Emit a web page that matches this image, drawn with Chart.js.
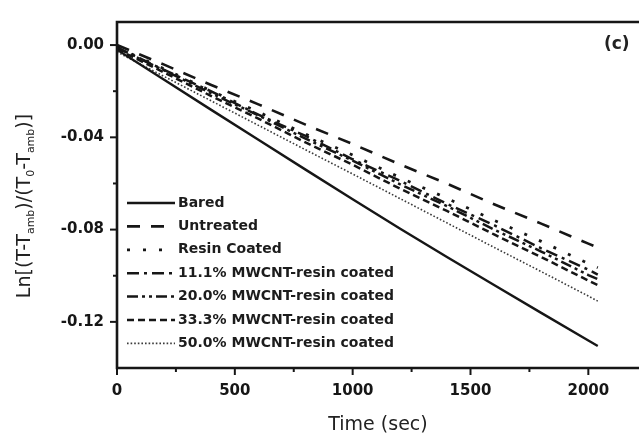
<!DOCTYPE html>
<html lang="en">
<head>
  <meta charset="UTF-8" />
  <title>Cooling curves</title>
  <script src="https://cdn.jsdelivr.net/npm/chart.js"></script>
  <style>
    body { margin: 0; background: #fff; overflow: hidden; }
    #wrap { width: 639px; height: 436px; }
  </style>
</head>
<body>
  <div id="wrap"><canvas id="coolChart"></canvas></div>

  <script>
    // time axis (sec)
    const timeSec = [0, 200, 400, 600, 800, 1000, 1200, 1400, 1600, 1800, 2000, 2040];

    // Ln[(T-Tamb)/(T0-Tamb)]
    const bared     = [-0.0020, -0.0150, -0.0281, -0.0410, -0.0540, -0.0668, -0.0795, -0.0919, -0.1040, -0.1161, -0.1281, -0.1305];
    const untreated = [ 0.0000, -0.0085, -0.0173, -0.0257, -0.0345, -0.0429, -0.0517, -0.0601, -0.0690, -0.0774, -0.0861, -0.0878];
    const resin     = [-0.0010, -0.0103, -0.0199, -0.0290, -0.0386, -0.0477, -0.0574, -0.0664, -0.0760, -0.0851, -0.0947, -0.0965];
    const mw111     = [-0.0010, -0.0108, -0.0201, -0.0302, -0.0394, -0.0495, -0.0588, -0.0688, -0.0781, -0.0881, -0.0974, -0.0995];
    const mw200     = [-0.0012, -0.0110, -0.0209, -0.0305, -0.0406, -0.0501, -0.0603, -0.0698, -0.0800, -0.0895, -0.0997, -0.1015];
    const mw333     = [-0.0018, -0.0119, -0.0221, -0.0319, -0.0422, -0.0519, -0.0622, -0.0719, -0.0821, -0.0919, -0.1021, -0.1040];
    const mw500     = [-0.0030, -0.0136, -0.0242, -0.0348, -0.0454, -0.0559, -0.0665, -0.0771, -0.0877, -0.0982, -0.1088, -0.1110];

    const seriesNames = [
      'Bared', 'Untreated', 'Resin Coated',
      '11.1% MWCNT-resin coated', '20.0% MWCNT-resin coated',
      '33.3% MWCNT-resin coated', '50.0% MWCNT-resin coated'
    ];

    // ticks
    const yMajor = [0, -0.04, -0.08, -0.12];
    const yLabels = ['0.00', '-0.04', '-0.08', '-0.12'];
    const yMinor = [-0.02, -0.06, -0.10];
    const xMajor = [0, 500, 1000, 1500, 2000];
    const xMinor = [250, 750, 1250, 1750];

    const ink = '#161616';
    const tickFont = { family: 'DejaVu Sans', size: 15, weight: 'bold' };

    const styles = [
      { w: 2.4, dash: [] },
      { w: 2.6, dash: [13, 11] },
      { w: 2.8, dash: [3, 13] },
      { w: 2.5, dash: [12, 5, 3, 5] },
      { w: 2.5, dash: [11, 4, 3, 4, 3, 4] },
      { w: 2.5, dash: [7, 4] },
      { w: 1.6, dash: [1.6, 2] }
    ];

    const allData = [bared, untreated, resin, mw111, mw200, mw333, mw500];
    const datasets = allData.map((arr, i) => ({
      label: seriesNames[i],
      data: arr.map((v, k) => ({ x: timeSec[k], y: v })),
      borderColor: i === 6 ? '#3a3a3a' : ink,
      borderWidth: styles[i].w,
      borderDash: styles[i].dash,
      pointRadius: 0,
      tension: 0,
      fill: false
    }));

    // frame, ticks, legend, y title, panel tag
    const decor = {
      id: 'decor',
      afterDraw(chart) {
        const ctx = chart.ctx;
        const a = chart.chartArea;
        const xs = chart.scales.x, ys = chart.scales.y;
        ctx.save();
        ctx.strokeStyle = ink;
        ctx.lineWidth = 2.6;
        ctx.setLineDash([]);
        ctx.beginPath();
        ctx.moveTo(a.right + 2, a.top);
        ctx.lineTo(a.left, a.top);
        ctx.lineTo(a.left, a.bottom);
        ctx.lineTo(a.right + 2, a.bottom);
        ctx.stroke();

        ctx.lineWidth = 2;
        yMajor.forEach(v => {
          const y = ys.getPixelForValue(v);
          ctx.beginPath(); ctx.moveTo(a.left - 7, y); ctx.lineTo(a.left, y); ctx.stroke();
        });
        yMinor.forEach(v => {
          const y = ys.getPixelForValue(v);
          ctx.beginPath(); ctx.moveTo(a.left - 4, y); ctx.lineTo(a.left, y); ctx.stroke();
        });
        xMajor.forEach(v => {
          const x = xs.getPixelForValue(v);
          ctx.beginPath(); ctx.moveTo(x, a.bottom); ctx.lineTo(x, a.bottom + 7); ctx.stroke();
        });
        xMinor.forEach(v => {
          const x = xs.getPixelForValue(v);
          ctx.beginPath(); ctx.moveTo(x, a.bottom); ctx.lineTo(x, a.bottom + 4); ctx.stroke();
        });

        // legend inside the plot
        const rowY0 = 203, rowGap = 23.4;
        ctx.font = 'bold 14px "DejaVu Sans"';
        ctx.textBaseline = 'middle';
        ctx.textAlign = 'left';
        datasets.forEach((ds, i) => {
          const y = rowY0 + i * rowGap;
          ctx.strokeStyle = ds.borderColor;
          ctx.lineWidth = ds.borderWidth;
          ctx.setLineDash(ds.borderDash);
          ctx.beginPath(); ctx.moveTo(127, y); ctx.lineTo(175, y); ctx.stroke();
          ctx.setLineDash([]);
          ctx.fillStyle = '#1c1c1c';
          ctx.fillText(ds.label, 178, y);
        });

        // y title with subscripts
        const parts = [
          ['Ln[(T-T', 0], ['amb', 1], [')/(T', 0], ['0', 1], ['-T', 0], ['amb', 1], [')]', 0]
        ];
        const big = 'normal 19px "DejaVu Sans"', small = 'normal 11px "DejaVu Sans"';
        let total = 0;
        parts.forEach(p => { ctx.font = p[1] ? small : big; total += ctx.measureText(p[0]).width; });
        ctx.translate(25, 206);
        ctx.rotate(-Math.PI / 2);
        ctx.fillStyle = '#222';
        ctx.textBaseline = 'middle';
        let cx = -total / 2;
        parts.forEach(p => {
          ctx.font = p[1] ? small : big;
          ctx.fillText(p[0], cx, p[1] ? 6 : 0);
          cx += ctx.measureText(p[0]).width;
        });
        ctx.restore();

        ctx.save();
        ctx.font = 'bold 17px "DejaVu Sans"';
        ctx.fillStyle = '#222';
        ctx.textBaseline = 'middle';
        ctx.fillText('(c)', 604, 45);
        ctx.restore();
      }
    };

    new Chart(document.getElementById('coolChart').getContext('2d'), {
      type: 'line',
      data: { datasets },
      options: {
        responsive: true,
        maintainAspectRatio: false,
        animation: false,
        layout: { padding: { top: 12, right: 0, left: 0, bottom: 0 } },
        plugins: { legend: { display: false }, tooltip: { enabled: false } },
        scales: {
          x: {
            type: 'linear',
            min: 0,
            max: 2215,
            grid: { display: false, drawTicks: false },
            border: { display: false },
            afterFit: s => { s.height = 68; },
            afterBuildTicks: s => { s.ticks = xMajor.map(v => ({ value: v })); },
            ticks: { color: ink, font: tickFont, padding: 14, maxRotation: 0, callback: v => String(v) },
            title: { display: true, text: 'Time (sec)', color: '#222', font: { family: 'DejaVu Sans', size: 19 }, padding: { top: 4, bottom: 0 } }
          },
          y: {
            type: 'linear',
            min: -0.14,
            max: 0.01,
            grid: { display: false, drawTicks: false },
            border: { display: false },
            afterFit: s => { s.width = 117; },
            afterBuildTicks: s => { s.ticks = yMajor.map(v => ({ value: v })); },
            ticks: { color: ink, font: tickFont, padding: 13, callback: (v, i) => yLabels[i] }
          }
        }
      },
      plugins: [decor]
    });
  </script>
</body>
</html>
